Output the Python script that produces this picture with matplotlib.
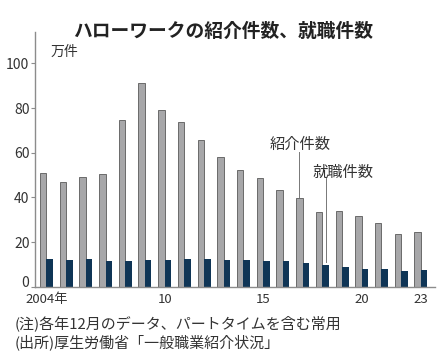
import numpy as np
import matplotlib
matplotlib.use("Agg")
import matplotlib.pyplot as plt
import matplotlib.transforms as mtransforms

plt.rcParams['font.family'] = ['Noto Sans CJK JP', 'DejaVu Sans']

years = list(range(2004, 2024))
referrals = [51, 47, 49, 50.6, 74.6, 91.2, 79.3, 73.8, 65.9, 58.2,
             52.5, 48.8, 43.3, 39.6, 33.6, 34.1, 31.7, 28.4, 23.5, 24.7]
placements = [12.5, 12.2, 12.5, 11.5, 11.5, 12.2, 12.2, 12.5, 12.6, 12.2,
              12.2, 11.8, 11.4, 10.5, 9.7, 9.1, 7.9, 7.9, 7.3, 7.7]
tick_years = [2004, 2010, 2015, 2020, 2023]
tick_labels = ['2004年', '10', '15', '20', '23']

gray = '#a7a7a9'
navy = '#0f3556'
axis_col = '#8c8c8c'
text_col = '#333333'

fig = plt.figure(figsize=(4.43, 3.6), dpi=100)
ax = fig.add_axes([0.079, 0.203, 0.903, 0.708])

x = np.arange(len(years))
w = 0.33
ax.bar(x - w / 2, referrals, width=w, color=gray, edgecolor='#5a5a5a', linewidth=0.6)
ax.bar(x + w / 2, placements, width=w, color=navy, linewidth=0)

ax.set_xlim(-0.58, 19.72)
ax.set_ylim(0, 114)
ax.set_yticks([0, 20, 40, 60, 80, 100])
ax.set_xticks([years.index(y) for y in tick_years])
ax.set_xticklabels(tick_labels)

for s in ['top', 'right']:
    ax.spines[s].set_visible(False)
for s in ['left', 'bottom']:
    ax.spines[s].set_color(axis_col)
    ax.spines[s].set_linewidth(1.0)
ax.tick_params(axis='y', length=3, color=axis_col, labelsize=10, labelcolor=text_col, pad=1)
ax.tick_params(axis='x', length=0, labelsize=9.5, labelcolor=text_col, pad=4.5)

# lift the zero label so it sits above the baseline
zero_lbl = ax.get_yticklabels()[0]
zero_lbl.set_transform(zero_lbl.get_transform() +
                       mtransforms.ScaledTranslation(0, 5 / 100, fig.dpi_scale_trans))

ax.text(0.2, 105, '万件', fontsize=10, color=text_col, va='center', ha='left')

# annotations
i17 = years.index(2017)
i18 = years.index(2018)
ax.plot([i17 - w / 2, i17 - w / 2], [referrals[i17] + 0.5, 60.5], color='#777777', lw=0.7)
ax.text(i17 - 1.65, 63.7, '紹介件数', fontsize=11, color=text_col, va='center', ha='left')
ax.plot([i18 + w / 2, i18 + w / 2], [placements[i18] + 1.5, 48.5], color='#777777', lw=0.7)
ax.text(i18 - 0.5, 51.2, '就職件数', fontsize=11, color=text_col, va='center', ha='left')

fig.text(0.503, 0.912, 'ハローワークの紹介件数、就職件数', fontsize=13.5,
         fontweight='bold', color='#222222', ha='center', va='center')
fig.text(0.033, 0.103, '(注)各年12月のデータ、パートタイムを含む常用', fontsize=10.8,
         color=text_col, ha='left', va='center')
fig.text(0.033, 0.05, '(出所)厚生労働省「一般職業紹介状況」', fontsize=10.8,
         color=text_col, ha='left', va='center')

fig.savefig('out.png', dpi=100)
